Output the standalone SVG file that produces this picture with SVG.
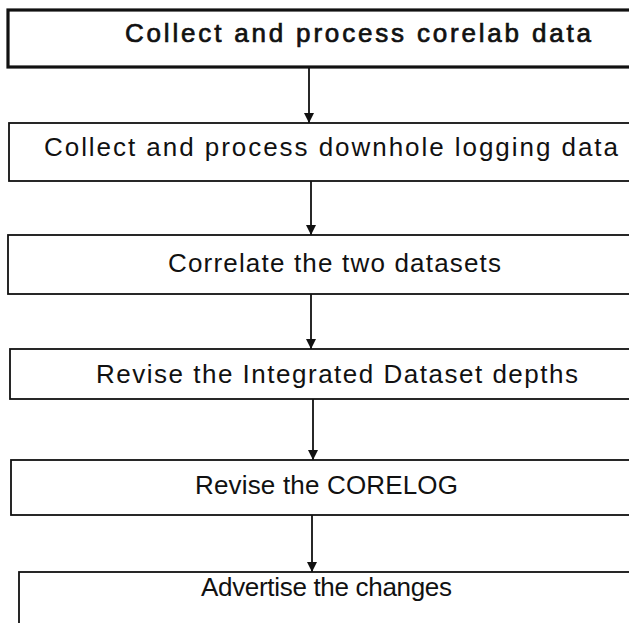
<svg xmlns="http://www.w3.org/2000/svg" width="629" height="623" viewBox="0 0 629 623">
<style>
.box{fill:#fff;stroke:#111;stroke-width:1.8}
.thick{stroke-width:3.2}
.lbl{font-family:"Liberation Sans","DejaVu Sans",sans-serif;font-size:26px;fill:#111}
.heavy{stroke:#111;stroke-width:0.7}
.conn{stroke:#111;stroke-width:1.8;fill:none}
</style>
<defs>
<marker id="ah" viewBox="0 0 10 18" refX="10" refY="9" markerWidth="10" markerHeight="18" markerUnits="userSpaceOnUse" orient="auto">
<path d="M0,4 L10,9 L0,14 Z" fill="#111"/>
</marker>
</defs>
<rect width="629" height="623" fill="#fff"/>
<g id="connectors">
<line class="conn" x1="309" y1="68" x2="309" y2="123" marker-end="url(#ah)"/>
<line class="conn" x1="311" y1="181" x2="311" y2="235" marker-end="url(#ah)"/>
<line class="conn" x1="311" y1="294" x2="311" y2="349" marker-end="url(#ah)"/>
<line class="conn" x1="313" y1="399" x2="313" y2="460" marker-end="url(#ah)"/>
<line class="conn" x1="312" y1="515" x2="312" y2="572" marker-end="url(#ah)"/>
</g>
<g id="n1">
<rect class="box thick" x="8" y="10" width="640" height="57"/>
<text class="lbl heavy" x="125" y="42" textLength="466">Collect and process corelab data</text>
</g>
<g id="n2">
<rect class="box" x="9" y="123" width="640" height="58"/>
<text class="lbl" x="44" y="156" textLength="574">Collect and process  downhole logging data</text>
</g>
<g id="n3">
<rect class="box" x="8" y="235" width="640" height="59"/>
<text class="lbl" x="168" y="272" textLength="333">Correlate the two datasets</text>
</g>
<g id="n4">
<rect class="box" x="10" y="349" width="640" height="50"/>
<text class="lbl" x="96" y="383" textLength="482">Revise the  Integrated Dataset depths</text>
</g>
<g id="n5">
<rect class="box" x="11" y="460" width="640" height="55"/>
<text class="lbl" x="195" y="494" textLength="263">Revise the  CORELOG</text>
</g>
<g id="n6">
<rect class="box" x="19" y="572" width="640" height="70"/>
<text class="lbl" x="201" y="596" textLength="251">Advertise the changes</text>
</g>
</svg>
